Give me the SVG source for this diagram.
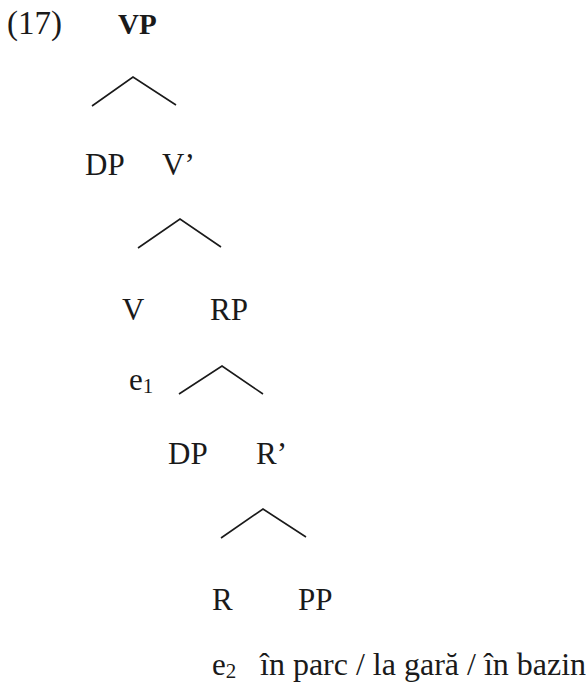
<svg xmlns="http://www.w3.org/2000/svg" width="586" height="682" viewBox="0 0 586 682">
<style>
text{font-family:"Liberation Serif","Times New Roman",serif;font-size:31px;fill:#1a1a1a}
.b{font-weight:bold;font-size:29px}
.sub{font-size:21px}
.conn{fill:none;stroke:#1a1a1a;stroke-width:1.6;stroke-linejoin:miter}
</style>
<rect width="586" height="682" fill="#fff"/>
<text x="7" y="34" style="font-size:33px">(17)</text>
<g id="VP"><text class="b" x="118" y="34">VP</text></g>
<g id="DP1"><text x="85" y="175">DP</text></g>
<g id="Vbar"><text x="162" y="175">V’</text></g>
<g id="V"><text x="122" y="320">V</text></g>
<g id="e1"><text x="129" y="390">e<tspan class="sub" dy="3">1</tspan></text></g>
<g id="RP"><text x="210" y="320">RP</text></g>
<g id="DP2"><text x="168" y="464">DP</text></g>
<g id="Rbar"><text x="256" y="464">R’</text></g>
<g id="R"><text x="212" y="610">R</text></g>
<g id="e2"><text x="212" y="675">e<tspan class="sub" dy="3">2</tspan></text></g>
<g id="PP"><text x="298" y="610">PP</text></g>
<g id="PPtext"><text x="260" y="675" style="font-size:32px">în parc / la gară / în bazin</text></g>
<g id="connectors">
<polyline class="conn" points="92,106 133,77 176,105"/>
<polyline class="conn" points="138,248 180,219 221,247"/>
<polyline class="conn" points="179,394 222,366 263,394"/>
<polyline class="conn" points="221,538 263,509 306,537"/>
</g>
</svg>
